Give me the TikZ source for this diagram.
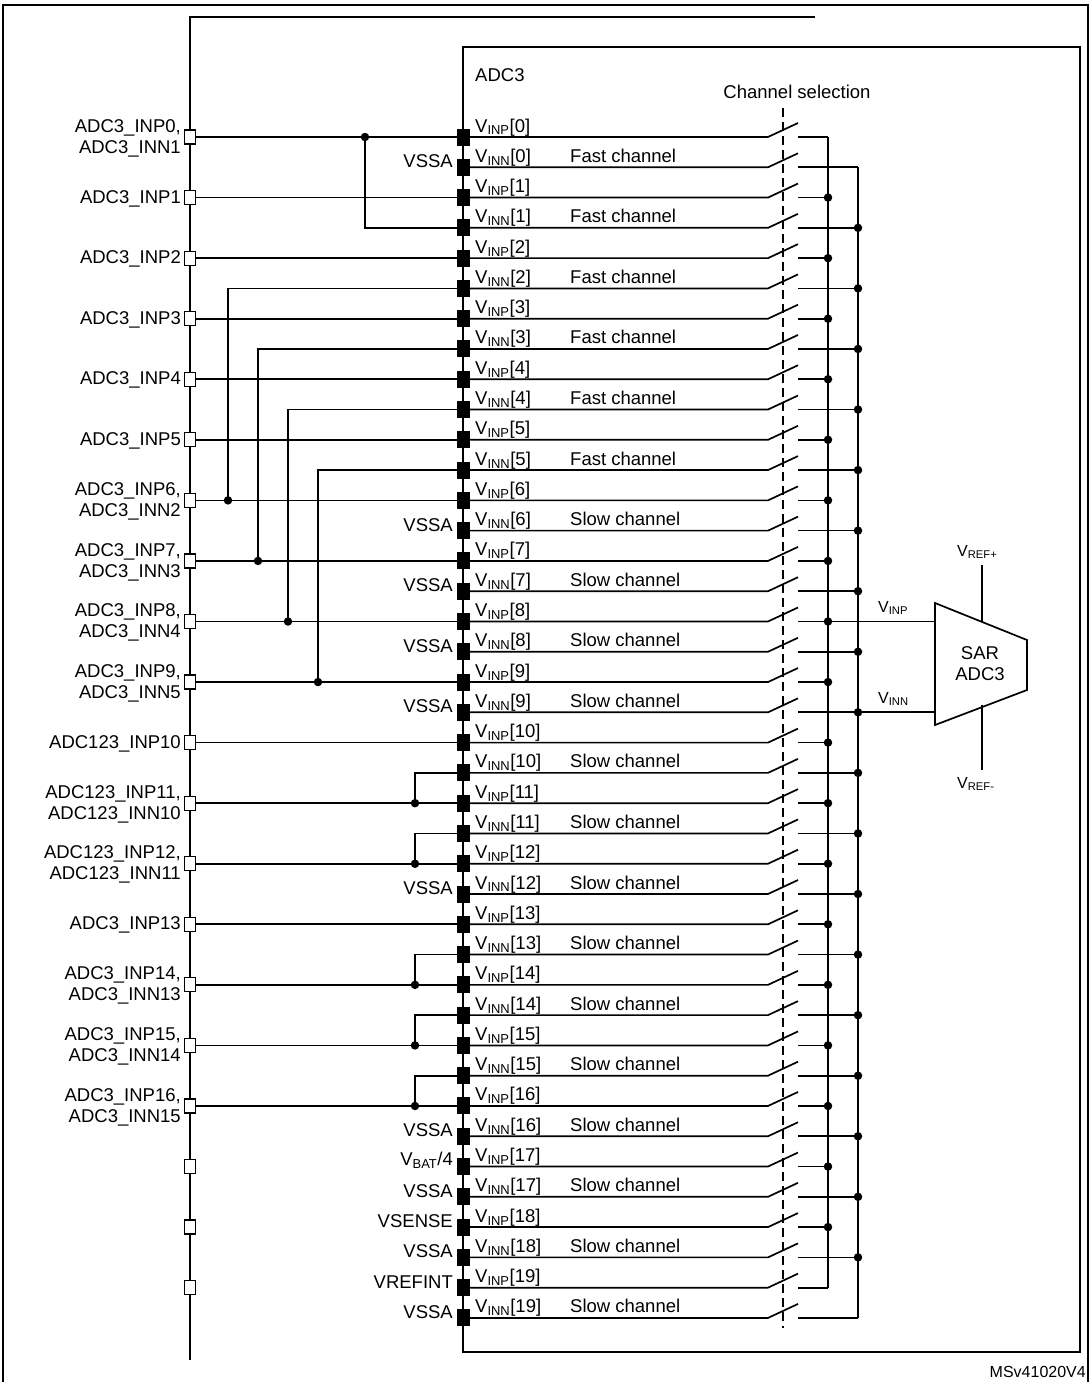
\documentclass[tikz,border=0pt]{standalone}
\usepackage{fontspec}
\setmainfont{Liberation Sans}
\usetikzlibrary{calc}
\begin{document}
\begin{tikzpicture}[x=1pt,y=-1pt,
  txt/.style={font=\fontsize{18.5}{21}\selectfont,inner sep=0pt},
  small/.style={font=\fontsize{16}{18}\selectfont,inner sep=0pt},
  wire/.style={line width=1.7pt},
  pinbox/.style={draw,line width=1.2pt,fill=white,minimum width=11pt,minimum height=14pt,inner sep=0pt},
  padbox/.style={fill=black,minimum width=13pt,minimum height=17pt,inner sep=0pt},
  jdot/.style={circle,fill=black,minimum size=8.5pt,inner sep=0pt}]
\useasboundingbox (0,0) rectangle (1091,1382);
% frames
\draw[line width=2.4pt] (3,1390) -- (3,5) -- (1088,5) -- (1088,1390);
\draw[line width=2.4pt] (815,17) -- (190,17) -- (190,1360);
\draw[line width=2.4pt] (463,1352) rectangle (1080,47);
\node[txt,anchor=west] (adc) at (475,75) {ADC3};
\node[txt] (chsel) at (797,92) {Channel selection};
\draw[line width=1.4pt,dash pattern=on 9pt off 5pt] (783,108) -- (783,1328);
\node[small,anchor=east] (code) at (1086,1372) {MSv41020V4};
% rows
\foreach \k in {0,...,39}{
  \pgfmathsetmacro{\y}{137+30.28*\k}
  \pgfmathtruncatemacro{\n}{\k/2}
  \pgfmathtruncatemacro{\odd}{mod(\k,2)}
  \coordinate (r\k) at (463,\y);
  \coordinate (s\k) at (768,\y);
  \coordinate (t\k) at (798,\y);
  \draw[wire] (r\k) -- (s\k) -- ++(30,-14);
  \ifnum\odd=0
    \coordinate (b\k) at (828,\y);
    \node[txt,anchor=base west] (l\k) at (475,\y-5) {V\textsubscript{INP}[\n]};
  \else
    \coordinate (b\k) at (858,\y);
    \node[txt,anchor=base west] (l\k) at (475,\y-5) {V\textsubscript{INN}[\n]};
    \ifnum\n<6
      \node[txt,anchor=base west] (c\k) at (570,\y-5) {Fast channel};
    \else
      \node[txt,anchor=base west] (c\k) at (570,\y-5) {Slow channel};
    \fi
  \fi
  \draw[wire] (t\k) -- (b\k);
}
% buses
\draw[wire] (b0) -- (b38);
\draw[wire] (b1) -- (b39);
\foreach \k in {2,4,...,36}{\node[jdot] at (b\k) {};}
\foreach \k in {3,5,...,37}{\node[jdot] at (b\k) {};}
% SAR
\node[txt,align=center] (sar) at (980,664) {SAR\\ADC3};
\draw[line width=1.7pt] (935,603) -- (1027,640) -- (1027,690) -- (935,725) -- cycle;
\draw[wire] (b16) -- (b16 -| 935,0);
\draw[wire] (b19) -- (b19 -| 935,0);
\node[small,anchor=base west] (vinp) at (878,612) {V\textsubscript{INP}};
\node[small,anchor=base west] (vinn) at (878,703) {V\textsubscript{INN}};
\draw[wire] (982,565) -- (982,622);
\draw[wire] (982,705) -- (982,770);
\node[small,anchor=base west] (vrp) at (957,556) {V\textsubscript{REF+}};
\node[small,anchor=base west] (vrm) at (957,788) {V\textsubscript{REF-}};
% pins with wires
\foreach \k/\lab in {0/{ADC3\_INP0,\\ADC3\_INN1}, 2/{ADC3\_INP1}, 4/{ADC3\_INP2}, 6/{ADC3\_INP3},
  8/{ADC3\_INP4}, 10/{ADC3\_INP5}, 12/{ADC3\_INP6,\\ADC3\_INN2}, 14/{ADC3\_INP7,\\ADC3\_INN3},
  16/{ADC3\_INP8,\\ADC3\_INN4}, 18/{ADC3\_INP9,\\ADC3\_INN5}, 20/{ADC123\_INP10},
  22/{ADC123\_INP11,\\ADC123\_INN10}, 24/{ADC123\_INP12,\\ADC123\_INN11}, 26/{ADC3\_INP13},
  28/{ADC3\_INP14,\\ADC3\_INN13}, 30/{ADC3\_INP15,\\ADC3\_INN14}, 32/{ADC3\_INP16,\\ADC3\_INN15}}{
  \draw[wire] (r\k -| 190,0) -- (r\k);
  \node[pinbox] (p\k) at (r\k -| 190,0) {};
  \node[txt,anchor=east,align=right] (pl\k) at ($(r\k -| 181,0)+(0,1)$) {\lab};
}
\foreach \k in {34,36,38}{\node[pinbox] (p\k) at (r\k -| 190,0) {};}
% jumpers
\foreach \a/\b/\x in {0/3/365, 12/5/228, 14/7/258, 16/9/288, 18/11/318, 22/21/415, 24/23/415, 28/27/415, 30/29/415, 32/31/415}{
  \draw[wire] (r\a -| \x,0) -- (r\b -| \x,0) -- (r\b);
  \node[jdot] at (r\a -| \x,0) {};
}
% pads
\foreach \k in {0,...,39}{\node[padbox] (q\k) at (r\k) {};}
% left pad labels
\foreach \k/\lab in {1/VSSA,13/VSSA,15/VSSA,17/VSSA,19/VSSA,25/VSSA,33/VSSA,35/VSSA,37/VSSA,39/VSSA,
  34/{V\textsubscript{BAT}/4},36/VSENSE,38/VREFINT}{
  \node[txt,anchor=east] (v\k) at ($(r\k)+(-10,-6)$) {\lab};
}
\end{tikzpicture}
\end{document}
